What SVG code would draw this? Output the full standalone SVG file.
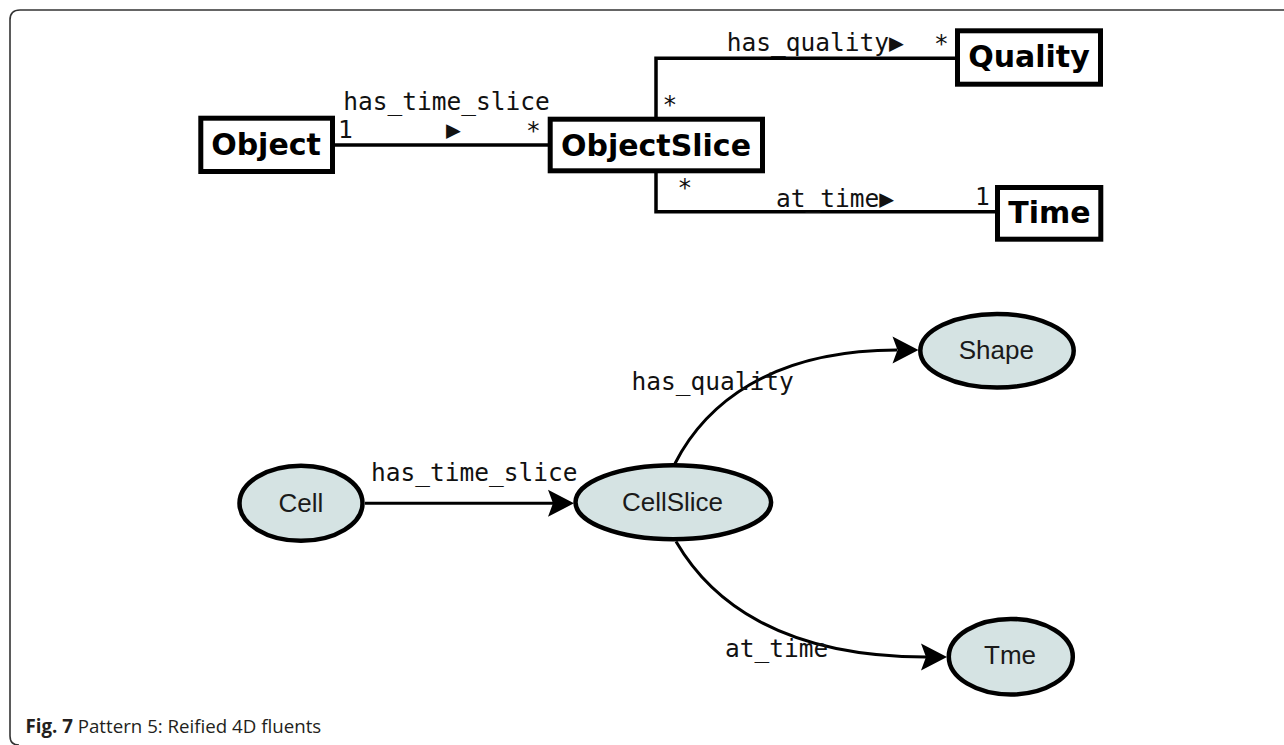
<svg xmlns="http://www.w3.org/2000/svg" width="1284" height="745" viewBox="0 0 1284 745">
<style>
.frame{fill:none;stroke:#333;stroke-width:1.6}
.box{fill:#fff;stroke:#000;stroke-width:5}
.btxt{font-family:"DejaVu Sans",sans-serif;font-weight:bold;font-size:30px;fill:#000;text-anchor:middle}
.mono{font-family:"DejaVu Sans Mono",monospace;font-size:24.5px;fill:#111}
.uml{fill:none;stroke:#000;stroke-width:3.5}
.node{fill:#d5e3e3;stroke:#000;stroke-width:4.5}
.ntxt{font-family:"Liberation Sans",Arial,sans-serif;font-size:26px;fill:#1a1a1a;text-anchor:middle}
.edge{fill:none;stroke:#000;stroke-width:3}
.head{fill:#000;stroke:none}
.cap{font-family:"Open Sans",sans-serif;font-size:18.7px;fill:#231f20}
</style>
<path class="frame" d="M1284,10 H20 Q10,10 10,20 V736 Q10,745 19,745"/>

<g id="connectors">
  <line class="uml" x1="335" y1="145" x2="548" y2="145"/>
  <path class="uml" d="M656,117 V58.3 H956"/>
  <path class="uml" d="M656,172 V211.7 H996"/>
  <line class="edge" x1="365" y1="503.3" x2="553" y2="503.3"/>
  <path class="head" d="M574,503.3 L548,489.8 L553,503.3 L548,516.8 Z"/>
  <path class="edge" d="M675,463.5 C705,405 770,350 897,350"/>
  <path class="head" d="M918.5,350 L892.5,336.5 L897.5,350 L892.5,363.5 Z"/>
  <path class="edge" d="M676,541.5 C710,600 780,657 926,657"/>
  <path class="head" d="M947,657 L921,643.5 L926,657 L921,670.5 Z"/>
  <text class="mono" x="343.3" y="110">has_time_slice</text>
  <text class="mono" x="338" y="138.3">1</text>
  <text class="mono" x="446" y="137.5">▶</text>
  <text class="mono" x="526" y="139">*</text>
  <text class="mono" x="726.7" y="51">has_quality▶</text>
  <text class="mono" x="934" y="51.5">*</text>
  <text class="mono" x="662.5" y="113">*</text>
  <text class="mono" x="677.5" y="196">*</text>
  <text class="mono" x="776" y="206.7">at_time▶</text>
  <text class="mono" x="975" y="205">1</text>
  <text class="mono" x="371" y="481">has_time_slice</text>
  <text class="mono" x="631.4" y="390">has_quality</text>
  <text class="mono" x="725" y="656.7">at_time</text>
</g>

<g id="Object">
  <rect class="box" x="200.8" y="118.2" width="131.7" height="53.3"/>
  <text class="btxt" x="266" y="155.3">Object</text>
</g>
<g id="ObjectSlice">
  <rect class="box" x="550.2" y="119.2" width="212.3" height="51.6"/>
  <text class="btxt" x="656" y="155.5">ObjectSlice</text>
</g>
<g id="Quality">
  <rect class="box" x="957.5" y="30.8" width="143" height="53.4"/>
  <text class="btxt" x="1029" y="67">Quality</text>
</g>
<g id="Time">
  <rect class="box" x="997.5" y="187.5" width="103.3" height="51.7"/>
  <text class="btxt" x="1049.5" y="222.7">Time</text>
</g>

<g id="Cell">
  <ellipse class="node" cx="301" cy="503.3" rx="61.5" ry="37.5"/>
  <text class="ntxt" x="301" y="511.7">Cell</text>
</g>
<g id="CellSlice">
  <ellipse class="node" cx="673.3" cy="502.3" rx="97.8" ry="37"/>
  <text class="ntxt" x="672.5" y="511">CellSlice</text>
</g>
<g id="Shape">
  <ellipse class="node" cx="997" cy="350.8" rx="76.7" ry="36.8"/>
  <text class="ntxt" x="996.3" y="359.3">Shape</text>
</g>
<g id="Tme">
  <ellipse class="node" cx="1010.8" cy="656.7" rx="62" ry="37.8"/>
  <text class="ntxt" x="1010" y="664.3">Tme</text>
</g>

<text class="cap" x="25.5" y="733"><tspan font-weight="bold">Fig. 7</tspan> Pattern 5: Reified 4D fluents</text>
</svg>
